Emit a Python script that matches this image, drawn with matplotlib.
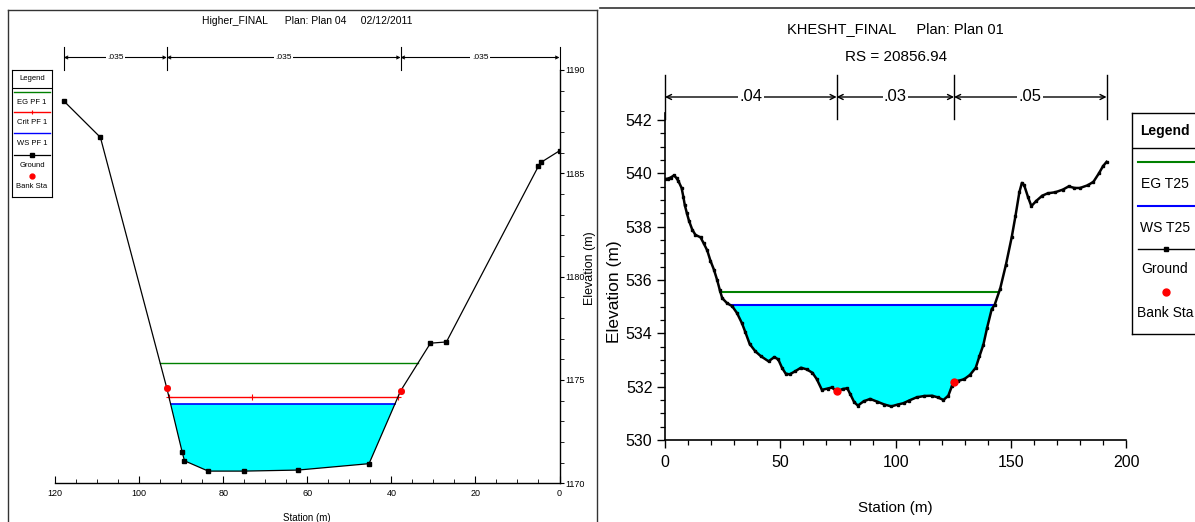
import numpy as np
import matplotlib
matplotlib.use('Agg')
import matplotlib.pyplot as plt
from matplotlib.lines import Line2D
from matplotlib.ticker import MultipleLocator

# ---------------- data ----------------
# Left chart (mirrored HEC-RAS cross section)
left_title = "Higher_FINAL      Plan: Plan 04     02/12/2011"
left_station = [0.0, 4.4, 5.0, 26.9, 30.7, 37.8, 45.3, 62.2, 75.0, 83.55, 89.2, 89.75, 93.4, 109.2, 117.9]
left_ground = [1186.09, 1185.53, 1185.35, 1176.84, 1176.78, 1174.47, 1170.95, 1170.64, 1170.59,
               1170.59, 1171.09, 1171.51, 1174.6, 1186.74, 1188.5]
left_bank_sta = [37.8, 93.4]
left_eg = 1175.83
left_crit = 1174.18
left_crit_mid_sta = 73.1
left_ws = 1173.85
left_n_values = ['.035', '.035', '.035']
left_xticks = [0, 20, 40, 60, 80, 100, 120]
left_yticks = [1170, 1175, 1180, 1185, 1190]
left_legend = ['EG PF 1', 'Crit PF 1', 'WS PF 1', 'Ground', 'Bank Sta']

# Right chart
right_title = "KHESHT_FINAL     Plan: Plan 01"
right_subtitle = "RS = 20856.94"
right_station = [0.0, 1.2, 2.4, 3.9, 5.0, 5.8, 7.2, 8.0, 8.6, 9.5, 10.4, 11.8, 13.2, 15.4, 16.8, 18.3,
                 19.7, 21.2, 22.6, 23.8, 24.8, 26.9, 29.1, 31.2, 33.4, 34.8, 36.7, 39.2, 41.6, 44.9,
                 47.4, 49.1, 50.7, 52.3, 54.0, 56.5, 58.9, 61.4, 63.9, 65.8, 68.0, 70.5, 72.4, 74.4,
                 77.0, 79.0, 80.3, 82.0, 83.6, 86.1, 88.9, 91.9, 95.1, 98.1, 100.9, 103.4, 105.8,
                 109.1, 112.4, 115.7, 118.2, 120.7, 122.8, 124.4, 125.3, 127.2, 129.7, 132.2, 134.7,
                 136.3, 138.0, 139.6, 141.6, 142.9, 145.3, 147.8, 150.3, 151.9, 153.6, 154.7, 155.7,
                 157.4, 158.8, 161.0, 163.5, 165.9, 169.2, 172.5, 175.0, 177.5, 179.9, 183.2, 185.7,
                 188.1, 189.8, 191.4]
right_ground = [539.78, 539.80, 539.84, 539.92, 539.82, 539.71, 539.45, 539.10, 538.80, 538.50, 538.22,
                537.89, 537.69, 537.60, 537.37, 537.11, 536.72, 536.39, 536.00, 535.61, 535.32, 535.13,
                535.02, 534.76, 534.37, 534.05, 533.60, 533.32, 533.14, 532.95, 533.11, 533.02, 532.71,
                532.49, 532.46, 532.58, 532.71, 532.65, 532.52, 532.28, 531.88, 531.93, 531.97, 531.82,
                531.91, 531.94, 531.72, 531.42, 531.29, 531.45, 531.54, 531.44, 531.33, 531.26, 531.33,
                531.38, 531.48, 531.60, 531.65, 531.66, 531.60, 531.50, 531.66, 532.03, 532.19, 532.22,
                532.28, 532.44, 532.71, 533.14, 533.57, 534.20, 534.90, 535.07, 535.68, 536.58, 537.61,
                538.39, 539.29, 539.64, 539.55, 539.10, 538.77, 538.97, 539.16, 539.25, 539.29, 539.39,
                539.51, 539.45, 539.45, 539.55, 539.68, 540.00, 540.26, 540.43]
right_bank_sta = [74.4, 125.3]
right_eg = 535.55
right_ws = 535.06
right_n_values = ['.04', '.03', '.05']
right_xticks = [0, 50, 100, 150, 200]
right_yticks = [530, 532, 534, 536, 538, 540, 542]
right_legend = ['EG T25', 'WS T25', 'Ground', 'Bank Sta']

# ---------------- setup ----------------
W, H = 1195, 522
SANS = ['Liberation Sans', 'DejaVu Sans']
plt.rcParams['font.family'] = SANS
fig = plt.figure(figsize=(W / 100, H / 100), dpi=100)

GREEN = '#008000'
BLUE = '#0000ff'
RED = '#ff0000'
CYAN = '#00ffff'


def rect(l, t, r, b):
    return [l / W, 1 - b / H, (r - l) / W, (b - t) / H]


def crossings(st, gr, level):
    st = np.asarray(st, float)
    gr = np.asarray(gr, float)
    idx = np.where(gr < level)[0]
    i0, i1 = idx[0], idx[-1]
    xl = st[i0 - 1] + (level - gr[i0 - 1]) * (st[i0] - st[i0 - 1]) / (gr[i0] - gr[i0 - 1])
    xr = st[i1] + (level - gr[i1]) * (st[i1 + 1] - st[i1]) / (gr[i1 + 1] - gr[i1])
    return xl, xr, i0, i1


def water(ax, st, gr, level, color, lw, fill=False, z=2):
    xl, xr, i0, i1 = crossings(st, gr, level)
    if fill:
        xs = [xl] + list(st[i0:i1 + 1]) + [xr]
        ys = [level] + list(gr[i0:i1 + 1]) + [level]
        ax.fill(xs, ys, color=CYAN, lw=0, zorder=1)
    ax.plot([xl, xr], [level, level], color=color, lw=lw, zorder=z)
    return xl, xr


def manning(ax, stations, labels, y_arrow, y0, y1, fs, lw, ms):
    tr = ax.get_xaxis_transform()
    for s in stations:
        ax.add_line(Line2D([s, s], [y0, y1], transform=tr, color='black', lw=lw, clip_on=False))
    for a, b, lab in zip(stations[:-1], stations[1:], labels):
        ax.annotate('', xy=(a, y_arrow), xytext=(b, y_arrow), xycoords=tr, textcoords=tr,
                    arrowprops=dict(arrowstyle='<->', lw=lw, color='black', shrinkA=0, shrinkB=0,
                                    mutation_scale=ms), annotation_clip=False)
        ax.text((a + b) / 2, y_arrow, lab, transform=tr, ha='center', va='center', fontsize=fs,
                bbox=dict(fc='white', ec='none', pad=1.0), clip_on=False)


# panel frames
fig.add_artist(Line2D([8 / W, 597 / W], [1 - 10 / H, 1 - 10 / H], transform=fig.transFigure, color='#333333', lw=1))
fig.add_artist(Line2D([8 / W, 8 / W], [0, 1 - 10 / H], transform=fig.transFigure, color='#333333', lw=1))
fig.add_artist(Line2D([597 / W, 597 / W], [0, 1 - 10 / H], transform=fig.transFigure, color='#333333', lw=1))
fig.add_artist(Line2D([600 / W, 1], [1 - 8 / H, 1 - 8 / H], transform=fig.transFigure, color='#333333', lw=1.2))

# ---------------- left chart ----------------
axL = fig.add_axes(rect(55, 70, 559.5, 483.3))
lst = np.array(left_station)
lgr = np.array(left_ground)
water(axL, lst, lgr, left_ws, BLUE, 1.2, fill=True)
water(axL, lst, lgr, left_eg, GREEN, 1.0)
cl, cr = water(axL, lst, lgr, left_crit, RED, 1.0)
axL.plot([cl, left_crit_mid_sta, cr], [left_crit] * 3, ls='none', marker='+', color=RED, ms=4, mew=0.8, zorder=3)
axL.plot(lst, lgr, color='black', lw=0.9, marker='s', ms=2.8, zorder=4)
axL.plot(left_bank_sta, np.interp(left_bank_sta, lst, lgr), ls='none', marker='o', color=RED, ms=4, zorder=5)
axL.set_xlim(120, 0)
axL.set_ylim(1170, 1190)
for s in ['left', 'top']:
    axL.spines[s].set_visible(False)
for s in ['right', 'bottom']:
    axL.spines[s].set_linewidth(1.0)
axL.yaxis.tick_right()
axL.set_xticks(left_xticks)
axL.set_yticks(left_yticks)
axL.xaxis.set_minor_locator(MultipleLocator(5))
axL.yaxis.set_minor_locator(MultipleLocator(1))
axL.tick_params(axis='x', which='both', direction='in', labelsize=6.5, pad=4)
axL.tick_params(axis='x', which='major', length=5)
axL.tick_params(axis='x', which='minor', length=3)
axL.tick_params(axis='y', which='both', direction='out', length=3, labelsize=6.5, pad=1.5)
axL.set_xlabel('Station (m)', fontsize=7, labelpad=11)
axL.text((590 - 55) / 504.5, (483.3 - 268) / 413.3, 'Elevation (m)', transform=axL.transAxes,
         rotation=90, ha='center', va='center', fontsize=9)
axL.text(0.5, (483.3 - 21.5) / 413.3, left_title, transform=axL.transAxes, ha='center', va='center', fontsize=7.5)
manning(axL, [left_station[-1], left_bank_sta[1], left_bank_sta[0], left_station[0]], left_n_values,
        (483.3 - 57.5) / 413.3, 1.0, (483.3 - 47) / 413.3, 6, 0.8, 5)

# left legend
lgL = fig.add_axes(rect(12, 70, 52, 197))
lgL.set_xlim(12, 52)
lgL.set_ylim(197, 70)
lgL.set_xticks([])
lgL.set_yticks([])
for s in lgL.spines.values():
    s.set_linewidth(0.8)
lgL.text(32, 79, 'Legend', ha='center', va='center', fontsize=5.5)
lgL.plot([12, 52], [88, 88], color='black', lw=0.8)
lgL.plot([14, 50], [92, 92], color=GREEN, lw=1)
lgL.text(32, 102, left_legend[0], ha='center', va='center', fontsize=5.5)
lgL.plot([14, 50], [112, 112], color=RED, lw=1)
lgL.plot([32], [112], marker='+', color=RED, ms=3.5, mew=0.8)
lgL.text(32, 122, left_legend[1], ha='center', va='center', fontsize=5.5)
lgL.plot([14, 50], [133, 133], color=BLUE, lw=1)
lgL.text(32, 143, left_legend[2], ha='center', va='center', fontsize=5.5)
lgL.plot([14, 50], [155, 155], color='black', lw=0.9)
lgL.plot([32], [155], marker='s', color='black', ms=2.5)
lgL.text(32, 165, left_legend[3], ha='center', va='center', fontsize=5.5)
lgL.plot([32], [176], marker='o', color=RED, ms=3.5)
lgL.text(32, 186, left_legend[4], ha='center', va='center', fontsize=5.5)

# ---------------- right chart ----------------
axR = fig.add_axes(rect(665, 113.3, 1126.4, 440))
rst = np.array(right_station)
rgr = np.array(right_ground)
water(axR, rst, rgr, right_ws, BLUE, 1.5, fill=True)
water(axR, rst, rgr, right_eg, GREEN, 1.5)
axR.plot(rst, rgr, color='black', lw=1.8, marker='s', ms=2.0, zorder=4)
axR.plot(right_bank_sta, np.interp(right_bank_sta, rst, rgr), ls='none', marker='o', color=RED, ms=5, zorder=5)
axR.set_xlim(0, 200)
axR.set_ylim(530, 542.25)
for s in ['right', 'top']:
    axR.spines[s].set_visible(False)
for s in ['left', 'bottom']:
    axR.spines[s].set_linewidth(1.2)
axR.set_xticks(right_xticks)
axR.set_yticks(right_yticks)
axR.xaxis.set_minor_locator(MultipleLocator(10))
axR.yaxis.set_minor_locator(MultipleLocator(0.5))
axR.tick_params(axis='both', which='major', direction='out', length=6, width=1, labelsize=11.5)
axR.tick_params(axis='both', which='minor', direction='out', length=3.5, width=0.9)
axR.tick_params(axis='x', pad=5)
axR.tick_params(axis='y', pad=3)
axR.set_xlabel('Station (m)', fontsize=11, labelpad=22)
axR.text((615 - 665) / 461.4, (440 - 292) / 326.7, 'Elevation (m)', transform=axR.transAxes,
         rotation=90, ha='center', va='center', fontsize=12.5)
axR.text(0.5, (440 - 29) / 326.7, right_title, transform=axR.transAxes, ha='center', va='center', fontsize=10.5)
axR.text(0.5, (440 - 57) / 326.7, right_subtitle, transform=axR.transAxes, ha='center', va='center', fontsize=11)
manning(axR, [right_station[0], right_bank_sta[0], right_bank_sta[1], right_station[-1]], right_n_values,
        (440 - 97) / 326.7, (440 - 119) / 326.7, (440 - 75) / 326.7, 12, 1.0, 9)

# right legend
lgR = fig.add_axes(rect(1132, 113, 1205, 334))
lgR.set_xlim(1132, 1205)
lgR.set_ylim(334, 113)
lgR.set_xticks([])
lgR.set_yticks([])
for s in lgR.spines.values():
    s.set_linewidth(1.0)
lgR.text(1165, 131, 'Legend', ha='center', va='center', fontsize=10, fontweight='bold')
lgR.plot([1132, 1205], [148, 148], color='black', lw=1.0)
lgR.plot([1138, 1205], [162, 162], color=GREEN, lw=1.5)
lgR.text(1165, 184, right_legend[0], ha='center', va='center', fontsize=10)
lgR.plot([1138, 1205], [206, 206], color=BLUE, lw=1.5)
lgR.text(1165, 228, right_legend[1], ha='center', va='center', fontsize=10)
lgR.plot([1138, 1205], [249, 249], color='black', lw=1.0)
lgR.plot([1166], [249], marker='s', color='black', ms=2.3)
lgR.text(1165, 269, right_legend[2], ha='center', va='center', fontsize=10)
lgR.plot([1166], [292], marker='o', color=RED, ms=5)
lgR.text(1165, 313, right_legend[3], ha='center', va='center', fontsize=10)

fig.savefig('out.png', dpi=100)
